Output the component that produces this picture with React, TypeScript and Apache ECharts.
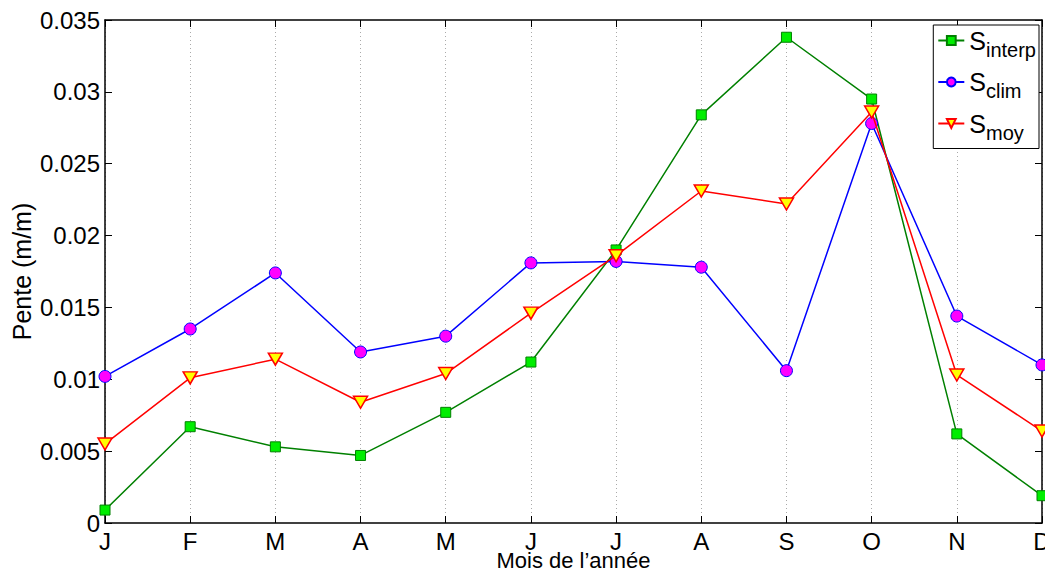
import React, { useEffect, useRef } from "react";
import * as echarts from "echarts";

const months = ["J", "F", "M", "A", "M", "J", "J", "A", "S", "O", "N", "D"];
const sInterp = [0.0009, 0.0067, 0.0053, 0.0047, 0.0077, 0.0112, 0.019, 0.0284, 0.0338, 0.0295, 0.0062, 0.0019];
const sClim = [0.0102, 0.0135, 0.0174, 0.0119, 0.0130, 0.0181, 0.0182, 0.0178, 0.0106, 0.0278, 0.0144, 0.0110];
const sMoy = [0.0055, 0.0101, 0.0114, 0.0084, 0.0104, 0.0146, 0.0186, 0.0231, 0.0222, 0.0286, 0.0103, 0.0064];
const yTicks = { min: 0, max: 0.035, interval: 0.005 };

const FONT = "'Liberation Sans', Arial, Helvetica, sans-serif";
const triDown = "path://M0,0 L10,0 L5,9 Z";

export default function App() {
  const ref = useRef<HTMLDivElement>(null);
  useEffect(() => {
    if (!ref.current) return;
    const chart = echarts.init(ref.current, undefined, { renderer: "svg" });
    const axisCommon = {
      axisLine: { show: true, onZero: false, lineStyle: { color: "#000", width: 1.5 } },
      axisTick: { show: true, inside: true, length: 7, lineStyle: { color: "#000", width: 1 } },
    };
    chart.setOption({
      animation: false,
      textStyle: { fontFamily: FONT },
      grid: { left: 105, right: 3, top: 20, bottom: 50, containLabel: false, outerBoundsMode: "none" },
      legend: {
        orient: "vertical",
        right: 6,
        top: 25,
        backgroundColor: "#fff",
        borderColor: "#000",
        borderWidth: 1,
        borderRadius: 0,
        padding: [3, 3, 6, 4],
        itemWidth: 26,
        itemHeight: 11,
        itemGap: 10,
        itemTextGap: 4,
        data: ["interp", "clim", "moy"],
        formatter: (name: string) => `{m|S}{s|${name}}`,
        textStyle: {
          color: "#000",
          fontFamily: FONT,
          rich: {
            m: { fontSize: 25, fontFamily: FONT, color: "#000", lineHeight: 38, verticalAlign: "middle" },
            s: { fontSize: 20, fontFamily: FONT, color: "#000", lineHeight: 14, verticalAlign: "bottom" },
          },
        },
      },
      xAxis: [
        {
          type: "category",
          data: months,
          boundaryGap: false,
          position: "bottom",
          ...axisCommon,
          axisLabel: { color: "#000", fontSize: 24, lineHeight: 20, fontFamily: FONT, margin: 8 },
          splitLine: { show: true, lineStyle: { color: "#aaa", type: [1, 3], width: 1 } },
          name: "Mois de l’année",
          nameLocation: "middle",
          nameGap: 26,
          nameMoveOverlap: false,
          nameTextStyle: { color: "#000", fontSize: 22, lineHeight: 22, fontFamily: FONT, verticalAlign: "top" },
        },
        {
          type: "category",
          data: months,
          boundaryGap: false,
          position: "top",
          ...axisCommon,
          axisLabel: { show: false },
          splitLine: { show: false },
        },
      ],
      yAxis: [
        {
          type: "value",
          ...yTicks,
          position: "left",
          ...axisCommon,
          axisLabel: { color: "#000", fontSize: 24, fontFamily: FONT, margin: 5 },
          splitLine: { show: false },
          name: "Pente (m/m)",
          nameLocation: "middle",
          nameGap: 71,
          nameRotate: 90,
          nameMoveOverlap: false,
          nameTextStyle: { color: "#000", fontSize: 25, fontFamily: FONT },
        },
        {
          type: "value",
          ...yTicks,
          position: "right",
          ...axisCommon,
          axisLabel: { show: false },
          splitLine: { show: false },
        },
      ],
      series: [
        {
          name: "interp",
          type: "line",
          data: sInterp,
          symbol: "rect",
          symbolSize: 10,
          showAllSymbol: true,
          lineStyle: { color: "#008000", width: 1.5 },
          itemStyle: { color: "#00ee00", borderColor: "#008000", borderWidth: 1 },
          z: 3,
        },
        {
          name: "clim",
          type: "line",
          data: sClim,
          symbol: "circle",
          symbolSize: 12,
          showAllSymbol: true,
          lineStyle: { color: "#0000ff", width: 1.5 },
          itemStyle: { color: "#ff00ff", borderColor: "#0000ff", borderWidth: 1 },
          z: 4,
        },
        {
          name: "moy",
          type: "line",
          data: sMoy,
          symbol: triDown,
          symbolSize: [14, 12],
          showAllSymbol: true,
          lineStyle: { color: "#ff0000", width: 1.5 },
          itemStyle: { color: "#ffff00", borderColor: "#ff0000", borderWidth: 1.5 },
          z: 5,
        },
      ],
    });
    return () => chart.dispose();
  }, []);
  return <div ref={ref} style={{ width: 1045, height: 573, position: "absolute", left: 0, top: 0 }} />;
}
